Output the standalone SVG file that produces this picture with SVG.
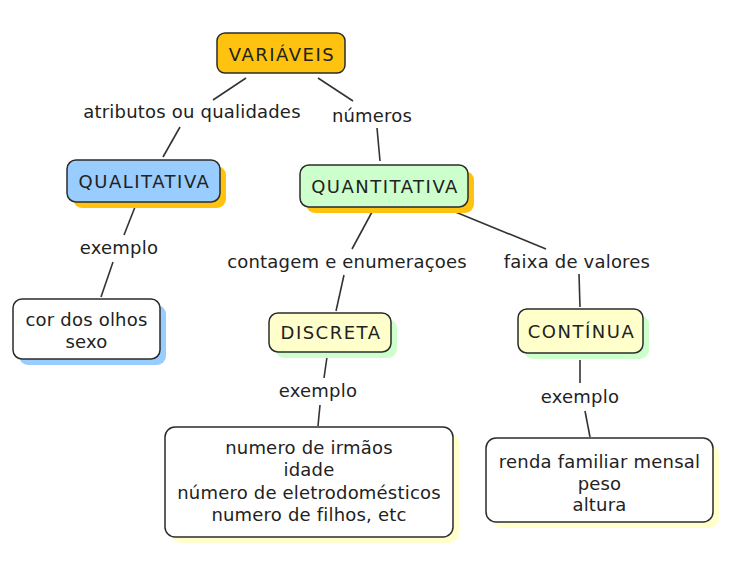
<svg xmlns="http://www.w3.org/2000/svg" width="749" height="588" viewBox="0 0 749 588">
<style>
.box{stroke:#2b2b2b;stroke-width:1.5}
.t{font-family:"DejaVu Sans",Verdana,sans-serif;font-size:18px;fill:#222;text-anchor:middle;letter-spacing:0.2px}
.cap{letter-spacing:1.5px}
.c line{stroke:#333;stroke-width:1.6}
</style>
<rect width="749" height="588" fill="#fff"/>
<g class="c" id="connectors">
<line x1="246" y1="78" x2="213" y2="100"/>
<line x1="180" y1="127" x2="163" y2="157"/>
<line x1="318" y1="78" x2="353" y2="101"/>
<line x1="377" y1="128" x2="380" y2="161"/>
<line x1="135" y1="207" x2="124" y2="235"/>
<line x1="113" y1="262" x2="101" y2="297"/>
<line x1="372" y1="212" x2="352" y2="249"/>
<line x1="344" y1="275" x2="336" y2="311"/>
<line x1="453" y1="211" x2="546" y2="249"/>
<line x1="579" y1="274" x2="580" y2="307"/>
<line x1="327" y1="357" x2="324" y2="378"/>
<line x1="320" y1="405" x2="318" y2="426"/>
<line x1="580" y1="360" x2="580" y2="383"/>
<line x1="585" y1="411" x2="590" y2="437"/>
</g>
<g id="variaveis">
<rect class="box" x="217" y="33" width="128" height="40" rx="8" fill="#ffc20e"/>
<text class="t cap" x="282" y="61">VARIÁVEIS</text>
</g>
<g id="qualitativa">
<rect x="73" y="166" width="153" height="42" rx="9" fill="#ffc20e"/>
<rect class="box" x="67" y="160" width="153" height="42" rx="9" fill="#99ccff"/>
<text class="t cap" x="144.5" y="188">QUALITATIVA</text>
</g>
<g id="quantitativa">
<rect x="306" y="171" width="168" height="42" rx="9" fill="#ffc20e"/>
<rect class="box" x="300" y="165" width="168" height="42" rx="9" fill="#ccffcc"/>
<text class="t cap" x="385" y="193">QUANTITATIVA</text>
</g>
<g id="cor">
<rect x="19" y="305" width="147" height="60" rx="9" fill="#99ccff"/>
<rect class="box" x="13" y="299" width="147" height="60" rx="9" fill="#fff"/>
<text class="t" x="86.5" y="326">cor dos olhos</text>
<text class="t" x="86.5" y="348">sexo</text>
</g>
<g id="discreta">
<rect x="275" y="319" width="122" height="39" rx="9" fill="#ccffcc"/>
<rect class="box" x="269" y="313" width="122" height="39" rx="9" fill="#ffffcc"/>
<text class="t cap" x="331" y="339">DISCRETA</text>
</g>
<g id="continua">
<rect x="524" y="315" width="125" height="44" rx="9" fill="#ccffcc"/>
<rect class="box" x="518" y="309" width="125" height="44" rx="9" fill="#ffffcc"/>
<text class="t cap" x="581.5" y="338">CONTÍNUA</text>
</g>
<g id="numero">
<rect x="171" y="433" width="288" height="110" rx="10" fill="#ffffcc"/>
<rect class="box" x="165" y="427" width="288" height="110" rx="10" fill="#fff"/>
<text class="t" x="309" y="454">numero de irmãos</text>
<text class="t" x="309" y="476">idade</text>
<text class="t" x="309" y="499">número de eletrodomésticos</text>
<text class="t" x="309" y="521">numero de filhos, etc</text>
</g>
<g id="renda">
<rect x="492" y="444" width="227" height="84" rx="10" fill="#ffffcc"/>
<rect class="box" x="486" y="438" width="227" height="84" rx="10" fill="#fff"/>
<text class="t" x="599.5" y="468">renda familiar mensal</text>
<text class="t" x="599.5" y="490">peso</text>
<text class="t" x="599.5" y="511">altura</text>
</g>
<g id="labels">
<text class="t" x="192" y="118">atributos ou qualidades</text>
<text class="t" x="372" y="122">números</text>
<text class="t" x="119" y="254">exemplo</text>
<text class="t" x="347" y="268">contagem e enumeraçoes</text>
<text class="t" x="577" y="268">faixa de valores</text>
<text class="t" x="318" y="397">exemplo</text>
<text class="t" x="580" y="403">exemplo</text>
</g>
</svg>
